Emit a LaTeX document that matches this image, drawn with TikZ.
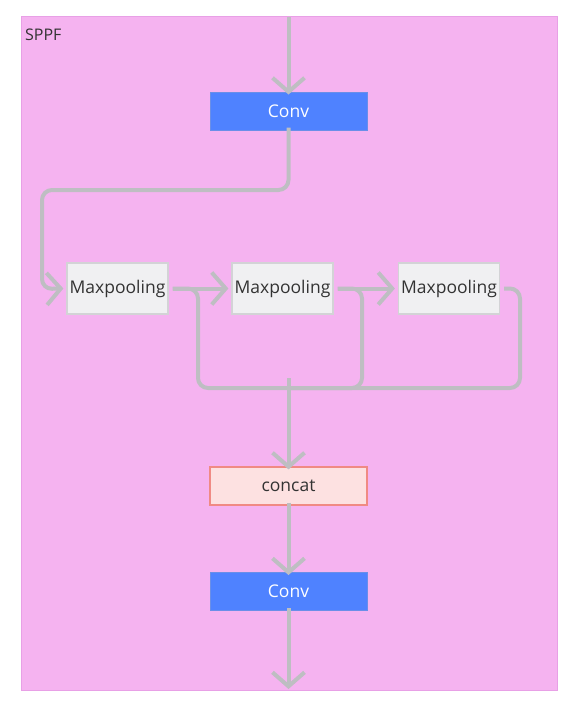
\documentclass[tikz,border=0pt]{standalone}
\usepackage{fontspec}
\setmainfont{Open Sans}
\usetikzlibrary{arrows.meta}
\definecolor{frame}{HTML}{F5B3F0}
\definecolor{framebd}{HTML}{E8A0E6}
\definecolor{convblue}{HTML}{4F82FF}
\definecolor{convbd}{HTML}{6A8FE8}
\definecolor{mpfill}{HTML}{F0F0F2}
\definecolor{mpbd}{HTML}{D3D3D6}
\definecolor{catfill}{HTML}{FDE1E1}
\definecolor{catbd}{HTML}{F08A84}
\definecolor{edge}{HTML}{BEBEC2}
\definecolor{txt}{HTML}{333333}
\tikzset{
  every node/.style={font=\fontsize{17.5}{20}\selectfont},
  convbox/.style={draw=convbd, line width=1pt, fill=convblue, text=white, minimum width=157pt, minimum height=38pt, inner sep=0pt},
  mpbox/.style={draw=mpbd, line width=1.2pt, fill=mpfill, text=txt, minimum width=101pt, minimum height=51pt, inner sep=0pt},
  catbox/.style={draw=catbd, line width=1.2pt, fill=catfill, text=txt, minimum width=157pt, minimum height=38pt, inner sep=0pt},
  conn/.style={draw=edge, line width=4pt, rounded corners=10pt},
  arr/.style={conn, -{Straight Barb[length=14pt, width=32pt, line width=4pt]}},
}
\begin{document}
\begin{tikzpicture}[x=1pt, y=-1pt]
\useasboundingbox (0,0) rectangle (577,704);
\fill[white] (0,0) rectangle (577,704);
\draw[fill=frame, draw=framebd, line width=0.8pt] (21,16) rectangle (557,690);
\node[anchor=north west, text=txt, font=\fontsize{16}{18}\selectfont, inner sep=0pt] (lbl) at (25,29) {SPPF};

\node[convbox] (conv1) at (288.5,111) {Conv};
\node[mpbox] (mp1) at (117.5,288.5) {Maxpooling};
\node[mpbox] (mp2) at (282.5,288.5) {Maxpooling};
\node[mpbox] (mp3) at (449,288.5) {Maxpooling};
\node[catbox] (cat) at (288.5,486) {concat};
\node[convbox] (conv2) at (288.5,591.5) {Conv};

\coordinate (in) at (288.5,17);
\coordinate (out) at (288.5,689);
\coordinate (j) at (288.5,388);

\draw[arr] (in) -- ([yshift=-3pt]conv1.north);
\draw[arr] ([yshift=3pt]conv1.south) -- (288.5,190) -- (42,190) -- (42,289) -- ([xshift=-3pt]mp1.west);
\draw[arr] ([xshift=4pt]mp1.east) -- ([xshift=-3pt]mp2.west);
\draw[arr] ([xshift=4pt]mp2.east) -- ([xshift=-3pt]mp3.west);
\draw[conn] ([xshift=4pt]mp1.east) -- (198,288.5) -- (198,388) -- (j);
\draw[conn] ([xshift=4pt]mp2.east) -- (362,288.5) -- (362,388) -- (j);
\draw[conn] ([xshift=4pt]mp3.east) -- (520,288.5) -- (520,388) -- (j);
\draw[arr] (288.5,380) -- (j) -- ([yshift=-3pt]cat.north);
\draw[arr] ([yshift=3pt]cat.south) -- ([yshift=-3pt]conv2.north);
\draw[arr] ([yshift=3pt]conv2.south) -- (out);
\end{tikzpicture}
\end{document}
